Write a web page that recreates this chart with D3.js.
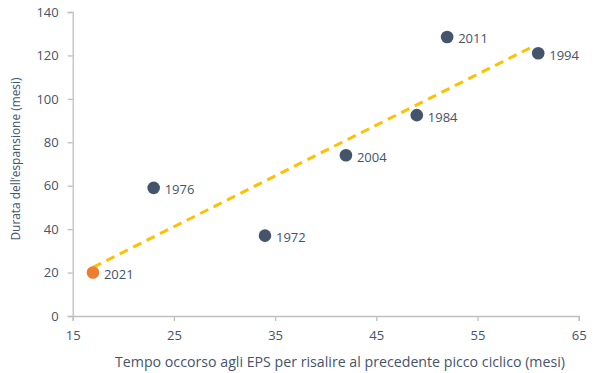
<!DOCTYPE html>
<html>
<head>
<meta charset="utf-8">
<script src="https://cdn.jsdelivr.net/npm/d3@7"></script>
<style>
  body { margin: 0; background: #fff; }
  text { font-family: "Open Sans", "Noto Sans", sans-serif; }
</style>
</head>
<body>
<div id="chart"></div>
<script>
// valori
const years = ["1972", "1976", "1984", "1994", "2004", "2011", "2021"]
const tempoEps = [34, 23, 49, 61, 42, 52, 17]
const durata = [37, 59, 92.5, 121, 74, 128.5, 20]
const trendX = [17, 60.6]
const trendY = [22.4, 124.4]
const xTicks = [15, 25, 35, 45, 55, 65]
const yTicks = [0, 20, 40, 60, 80, 100, 120, 140]

const width = 601, height = 373
const margin = {left: 72.7, right: 22.3, top: 12, bottom: 57}

const svg = d3.select("#chart")
    .append("svg")
    .attr("width", width)
    .attr("height", height)

const x = d3.scaleLinear()
    .domain([15, 65])
    .range([margin.left, width - margin.right])

const y = d3.scaleLinear()
    .domain([0, 140])
    .range([height - margin.bottom, margin.top])

const textColor = "#44546a"
const axisColor = "#bfbfbf"

// assi
const gx = svg.append("g")
    .attr("transform", `translate(0, ${y(0)})`)
    .call(d3.axisBottom(x).tickValues(xTicks).tickSize(5).tickPadding(10))
const gy = svg.append("g")
    .attr("transform", `translate(${x(15)}, 0)`)
    .call(d3.axisLeft(y).tickValues(yTicks).tickSize(5).tickPadding(9))

for (const g of [gx, gy]) {
  g.select(".domain").attr("stroke", axisColor).attr("stroke-width", 1.3)
  g.selectAll(".tick line").attr("stroke", axisColor).attr("stroke-width", 1.3)
  g.selectAll(".tick text")
    .attr("fill", textColor)
    .style("font-size", "13px")
    .style("font-family", "'Open Sans', sans-serif")
}

// titoli assi
svg.append("text")
    .attr("x", 340)
    .attr("y", 367)
    .attr("text-anchor", "middle")
    .attr("fill", textColor)
    .style("font-size", "14.2px")
    .text("Tempo occorso agli EPS per risalire al precedente picco ciclico (mesi)")

svg.append("text")
    .attr("transform", `translate(20, 159) rotate(-90)`)
    .attr("text-anchor", "middle")
    .attr("fill", textColor)
    .style("font-size", "11.9px")
    .text("Durata dell\u2019espansione (mesi)")

// linea di tendenza
svg.append("line")
    .attr("x1", x(trendX[0]))
    .attr("y1", y(trendY[0]))
    .attr("x2", x(trendX[1]))
    .attr("y2", y(trendY[1]))
    .attr("stroke", "#ffc000")
    .attr("stroke-width", 3)
    .attr("stroke-dasharray", "9,6")

// punti
const data = years.map((yr, i) => ({year: yr, x: tempoEps[i], y: durata[i]}))

svg.append("g")
  .selectAll("circle")
  .data(data)
  .enter()
  .append("circle")
    .attr("cx", d => x(d.x))
    .attr("cy", d => y(d.y))
    .attr("r", 6.3)
    .attr("fill", d => d.year === "2021" ? "#ed7d31" : "#44546a")

svg.append("g")
  .selectAll("text")
  .data(data)
  .enter()
  .append("text")
    .attr("x", d => x(d.x) + 11)
    .attr("y", d => y(d.y) + 6.5)
    .attr("fill", textColor)
    .style("font-size", "13px")
    .text(d => d.year)
</script>
</body>
</html>
